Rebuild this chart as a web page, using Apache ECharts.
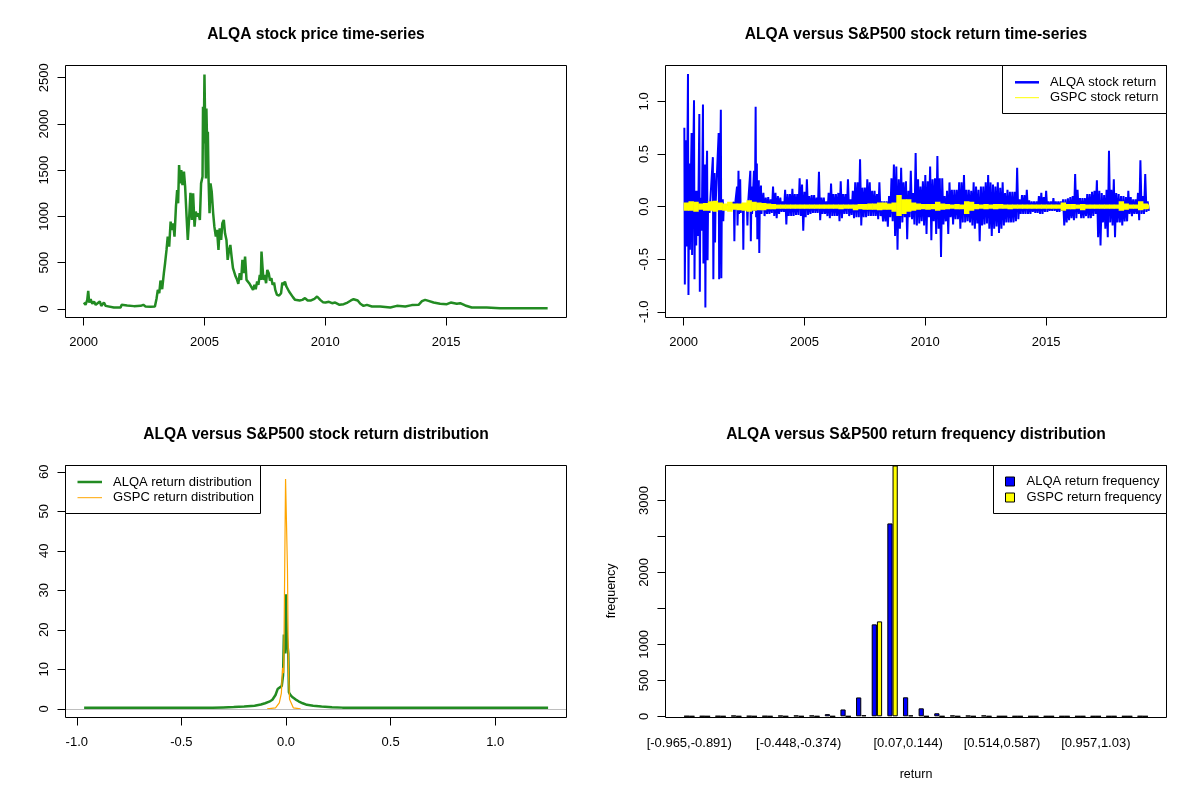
<!DOCTYPE html>
<html><head><meta charset="utf-8">
<script src="https://cdn.jsdelivr.net/npm/echarts@6/dist/echarts.min.js"></script>
<style>html,body{margin:0;padding:0;background:#fff}#c{width:1200px;height:800px}</style>
</head><body><div id="c"></div>
<script>
const FONT = '"Liberation Sans", Arial, Helvetica, sans-serif';

// ---------- DATA ----------
const titles = ['ALQA stock price time-series','ALQA versus S&P500 stock return time-series',
  'ALQA versus S&P500 stock return distribution','ALQA versus S&P500 return frequency distribution'];
const returnNames = ['ALQA stock return','GSPC stock return'];
const densityNames = ['ALQA return distribution','GSPC return distribution'];
const freqNames = ['ALQA return frequency','GSPC return frequency'];

const yearTicks = [2000,2005,2010,2015];
const priceTicks = [0,500,1000,1500,2000,2500];
const returnTicks = [-1,-0.5,0,0.5,1];
const densXTicks = [-1,-0.5,0,0.5,1];
const densYTicks = [0,10,20,30,40,50,60];
const freqTicks = [0,500,1000,1500,2000,2500,3000];
const freqTickLabels = [0,500,1000,2000,3000];

// ALQA price [year, price]
const pricePoints = [[2000.01,68],[2000.08,43],[2000.15,97],[2000.19,194],[2000.23,68],[2000.29,104],[2000.36,54],[2000.43,79],[2000.50,43],[2000.56,61],[2000.67,79],[2000.73,32],[2000.84,68],[2000.91,32],[2000.98,25],[2001.25,14],[2001.53,14],[2001.57,43],[2001.80,36],[2002.08,29],[2002.36,32],[2002.47,43],[2002.56,25],[2002.77,22],[2002.95,25],[2003.02,115],[2003.07,205],[2003.13,169],[2003.18,306],[2003.25,212],[2003.32,385],[2003.37,493],[2003.43,637],[2003.48,781],[2003.54,673],[2003.60,943],[2003.65,853],[2003.71,925],[2003.76,781],[2003.82,1105],[2003.87,1285],[2003.91,1141],[2003.95,1555],[2003.99,1357],[2004.04,1501],[2004.09,1339],[2004.15,1483],[2004.20,1321],[2004.26,997],[2004.31,745],[2004.37,997],[2004.42,1256],[2004.48,961],[2004.53,1249],[2004.59,889],[2004.64,1051],[2004.70,997],[2004.75,1033],[2004.81,961],[2004.86,1357],[2004.92,1429],[2004.94,2185],[2004.97,1789],[2005.00,2534],[2005.03,1969],[2005.06,1411],[2005.08,2167],[2005.11,1789],[2005.14,1915],[2005.17,1393],[2005.21,1033],[2005.25,1357],[2005.30,1267],[2005.36,1033],[2005.41,889],[2005.47,781],[2005.52,853],[2005.58,637],[2005.63,871],[2005.69,745],[2005.74,925],[2005.80,961],[2005.85,817],[2005.91,745],[2005.96,529],[2006.02,637],[2006.07,691],[2006.13,547],[2006.18,439],[2006.24,457],[2006.29,349],[2006.35,313],[2006.40,270],[2006.46,385],[2006.52,313],[2006.57,529],[2006.63,385],[2006.68,565],[2006.74,313],[2006.79,331],[2006.85,277],[2006.93,295],[2007.01,205],[2007.07,259],[2007.12,212],[2007.18,295],[2007.23,259],[2007.29,367],[2007.33,313],[2007.36,619],[2007.40,457],[2007.44,313],[2007.49,367],[2007.55,277],[2007.60,421],[2007.66,385],[2007.71,306],[2007.77,331],[2007.82,259],[2007.88,284],[2007.93,205],[2008.00,151],[2008.09,144],[2008.17,169],[2008.22,284],[2008.28,259],[2008.33,295],[2008.39,241],[2008.44,259],[2008.50,187],[2008.58,169],[2008.66,126],[2008.75,97],[2008.83,79],[2008.94,90],[2009.05,97],[2009.16,115],[2009.27,90],[2009.41,90],[2009.55,108],[2009.66,133],[2009.72,115],[2009.79,97],[2009.90,72],[2010.01,68],[2010.15,76],[2010.28,61],[2010.41,68],[2010.59,43],[2010.76,50],[2010.92,68],[2011.06,90],[2011.17,104],[2011.25,115],[2011.34,90],[2011.45,54],[2011.58,32],[2011.72,43],[2011.93,25],[2012.27,25],[2012.69,14],[2012.96,32],[2013.31,25],[2013.58,40],[2013.86,43],[2014.00,83],[2014.13,97],[2014.27,86],[2014.48,68],[2014.75,54],[2015.03,50],[2015.19,68],[2015.44,54],[2015.58,61],[2015.79,36],[2016.06,14],[2016.68,14],[2017.23,7],[2018.33,7],[2019.20,7]];

// ALQA early return spikes [year, high, low]
const alqaEarly = [[2000.03,0.75,-0.74],[2000.10,0.63,-0.38],[2000.18,1.26,-0.84],[2000.24,0.41,-0.41],[2000.33,0.70,-0.46],[2000.43,1.01,-0.69],[2000.50,0.15,-0.37],[2000.57,0.15,-0.28],[2000.65,0.88,-0.81],[2000.72,0.085,-0.23],[2000.80,0.97,-0.54],[2000.88,0.40,-0.96],[2000.97,0.53,-0.51],[2001.05,0.05,-0.06],[2001.21,0.47,-0.69],[2001.28,0.32,-0.34],[2001.45,0.70,-0.69],[2001.54,0.92,-0.68],[2001.62,0.07,-0.14],[2002.08,0.04,-0.33],[2002.21,0.19,-0.18],[2002.27,0.34,-0.07],[2002.34,0.26,-0.06],[2002.45,0.02,-0.41],[2002.62,0.02,-0.18],[2002.76,0.34,-0.33],[2002.81,0.19,-0.07],[2002.91,0.34,-0.04],[2002.98,0.95,-0.10],[2003.03,0.41,-0.31],[2003.11,0.25,-0.44],[2003.20,0.20,-0.07]];

// ALQA return range per 0.1 year from 2003.3 [high, low]
const alqaDenseStart = 2003.3, alqaDenseStep = 0.1;
const alqaDense = [[0.13,-0.09],[0.085,-0.07],[0.09,-0.07],[0.07,-0.06],[0.19,-0.09],[0.13,-0.11],[0.10,-0.07],
[0.085,-0.05],[0.05,-0.05],[0.16,-0.17],[0.12,-0.09],[0.12,-0.09],[0.17,-0.09],[0.12,-0.08],[0.12,-0.08],[0.27,-0.09],[0.21,-0.23],
[0.14,-0.10],[0.26,-0.08],[0.10,-0.07],[0.11,-0.06],[0.11,-0.06],[0.085,-0.06],[0.33,-0.13],[0.085,-0.07],[0.085,-0.07],[0.05,-0.09],
[0.13,-0.11],[0.22,-0.09],[0.12,-0.09],[0.12,-0.09],[0.13,-0.14],[0.24,-0.11],[0.12,-0.07],[0.12,-0.07],[0.26,-0.09],[0.07,-0.08],
[0.15,-0.11],[0.23,-0.10],[0.23,-0.10],[0.45,-0.18],[0.18,-0.10],[0.18,-0.10],[0.26,-0.09],[0.23,-0.09],[0.15,-0.09],[0.15,-0.09],
[0.12,-0.12],[0.23,-0.09],[0.05,-0.14],[0.05,-0.14],[0.05,-0.19],[0.10,-0.10],[0.27,-0.14],[0.40,-0.28],[0.38,-0.41],[0.26,-0.21],
[0.37,-0.15],[0.23,-0.10],[0.24,-0.31],[0.15,-0.10],[0.34,-0.12],[0.13,-0.17],[0.51,-0.18],[0.26,-0.16],[0.19,-0.14],[0.24,-0.18],
[0.30,-0.26],[0.24,-0.10],[0.38,-0.32],[0.26,-0.14],[0.27,-0.26],[0.48,-0.21],[0.27,-0.48],[0.27,-0.17],[0.10,-0.14],[0.15,-0.26],
[0.23,-0.10],[0.16,-0.17],[0.16,-0.12],[0.16,-0.12],
[0.23,-0.21],[0.23,-0.15],[0.30,-0.15],[0.16,-0.14],[0.16,-0.15],[0.15,-0.18],[0.23,-0.21],[0.19,-0.16],[0.16,-0.33],[0.19,-0.18],
[0.19,-0.17],[0.23,-0.16],[0.30,-0.21],[0.23,-0.28],[0.21,-0.21],[0.19,-0.19],[0.23,-0.25],[0.18,-0.21],[0.23,-0.18],[0.13,-0.15],
[0.16,-0.15],[0.14,-0.15],[0.14,-0.15],[0.14,-0.14],[0.37,-0.12],[0.07,-0.07],[0.11,-0.07],[0.11,-0.07],[0.16,-0.07],[0.06,-0.07],
[0.05,-0.05],[0.05,-0.06],[0.05,-0.06],[0.10,-0.07],[0.13,-0.07],[0.09,-0.05],[0.15,-0.05],[0.05,-0.04],[0.05,-0.04],[0.08,-0.04],
[0.05,-0.05],[0.05,-0.05],[0.05,-0.04],[0.07,-0.18],[0.07,-0.15],[0.08,-0.13],[0.09,-0.11],[0.10,-0.13],[0.31,-0.11],[0.16,-0.07],
[0.08,-0.11],[0.08,-0.11],[0.08,-0.09],[0.12,-0.11],[0.12,-0.11],[0.14,-0.09],[0.15,-0.07],[0.25,-0.29],[0.15,-0.37],[0.13,-0.15],
[0.11,-0.21],[0.16,-0.29],[0.53,-0.15],[0.16,-0.18],[0.26,-0.29],[0.13,-0.15],[0.12,-0.15],[0.10,-0.18],[0.10,-0.14],[0.09,-0.14],
[0.15,-0.07],[0.09,-0.09],[0.07,-0.07],[0.07,-0.07],[0.13,-0.13],[0.44,-0.07],[0.10,-0.07],[0.31,-0.05],[0.05,-0.04]];

// GSPC return range per 0.2 year from 2000.0 to 2019.2 [high, low]
const gspcStart = 2000.0, gspcStep = 0.2, gspcEnd = 2019.2;
const gspcRange = [[0.04,-0.04],[0.05,-0.04],[0.045,-0.05],[0.03,-0.03],[0.035,-0.04],[0.05,-0.04],[0.055,-0.05],[0.04,-0.035],[0.03,-0.04],[0.045,-0.05],
[0.03,-0.03],[0.03,-0.035],[0.04,-0.04],[0.06,-0.05],[0.045,-0.04],[0.04,-0.035],[0.035,-0.035],[0.03,-0.025],[0.025,-0.025],[0.02,-0.02],
[0.02,-0.02],[0.02,-0.02],[0.02,-0.02],[0.02,-0.02],[0.02,-0.02],[0.02,-0.02],[0.02,-0.02],[0.02,-0.02],[0.02,-0.02],[0.02,-0.02],
[0.02,-0.02],[0.02,-0.02],[0.02,-0.025],[0.02,-0.02],[0.02,-0.02],[0.02,-0.035],[0.025,-0.025],[0.025,-0.03],[0.03,-0.03],[0.03,-0.03],
[0.04,-0.035],[0.04,-0.03],[0.03,-0.03],[0.04,-0.05],[0.11,-0.09],[0.07,-0.07],[0.07,-0.05],[0.04,-0.04],[0.03,-0.03],[0.025,-0.025],
[0.025,-0.03],[0.025,-0.025],[0.045,-0.04],[0.03,-0.03],[0.025,-0.025],[0.02,-0.02],[0.025,-0.025],[0.02,-0.025],[0.05,-0.07],[0.045,-0.04],
[0.025,-0.025],[0.02,-0.02],[0.025,-0.025],[0.02,-0.02],[0.025,-0.025],[0.025,-0.02],[0.02,-0.02],[0.02,-0.025],[0.02,-0.02],[0.02,-0.02],
[0.02,-0.02],[0.02,-0.02],[0.02,-0.02],[0.02,-0.02],[0.02,-0.02],[0.02,-0.02],[0.02,-0.02],[0.02,-0.02],[0.04,-0.04],[0.025,-0.025],
[0.025,-0.025],[0.02,-0.02],[0.025,-0.035],[0.02,-0.02],[0.02,-0.02],[0.02,-0.02],[0.02,-0.02],[0.02,-0.02],[0.02,-0.02],[0.02,-0.02],
[0.05,-0.04],[0.03,-0.03],[0.02,-0.02],[0.02,-0.02],[0.05,-0.035],[0.03,-0.025],[0.02,-0.02]];

// return densities [return, density]
const alqaDensity = [[-0.965,0.25],[-0.35,0.25],[-0.3,0.35],[-0.25,0.45],[-0.2,0.6],[-0.15,0.8],[-0.12,1.1],[-0.1,1.4],[-0.08,1.8],[-0.065,2.3],[-0.05,3.5],[-0.04,5.0],[-0.03,5.4],[-0.02,5.8],[-0.014,8.5],[-0.01,18.8],[-0.006,18.5],[-0.003,14.0],[-0.001,29.0],[0.002,29.0],[0.004,18.3],[0.008,18.0],[0.011,14.0],[0.014,4.2],[0.02,3.6],[0.03,3.0],[0.045,2.4],[0.06,1.9],[0.08,1.4],[0.1,1.0],[0.13,0.8],[0.17,0.6],[0.22,0.4],[0.27,0.3],[0.35,0.25],[1.253,0.25]];
const gspcDensity = [[-0.09,0.0],[-0.05,0.25],[-0.032,1.5],[-0.022,4.0],[-0.016,10.4],[-0.011,9.0],[-0.006,36.0],[-0.002,58.2],[0.003,57.9],[0.007,35.6],[0.012,9.0],[0.017,2.4],[0.035,0.25],[0.07,0.0]];

// return frequency per bin
const binLabels = ['[-0.965,-0.891)','[-0.891,-0.817)','[-0.817,-0.743)','[-0.743,-0.669)','[-0.669,-0.595)','[-0.595,-0.522)','[-0.522,-0.448)','[-0.448,-0.374)','[-0.374,-0.3)','[-0.3,-0.226)','[-0.226,-0.152)','[-0.152,-0.0784)','[-0.0784,-0.00448)','[-0.00448,0.07)','[0.07,0.144)','[0.144,0.218)','[0.218,0.292)','[0.292,0.366)','[0.366,0.44)','[0.44,0.514)','[0.514,0.587)','[0.587,0.661)','[0.661,0.735)','[0.735,0.809)','[0.809,0.883)','[0.883,0.957)','[0.957,1.03)','[1.03,1.1)','[1.1,1.18)','[1.18,1.25]'];
const shownBinLabels = ['[-0.965,-0.891)','[-0.448,-0.374)','[0.07,0.144)','[0.514,0.587)','[0.957,1.03)'];
const alqaFreq = [2,1,2,8,3,2,8,10,10,30,95,262,1278,2681,264,111,42,10,8,10,0,0,0,0,0,0,0,0,0,1];
const gspcFreq = [0,0,0,0,0,0,0,0,0,0,0,15,1319,3486,12,0,0,0,0,0,0,0,0,0,0,0,0,0,0,0];

// ---------- BUILD ----------
const alqaReturnLine = [];
alqaEarly.forEach(([t,h,l]) => { alqaReturnLine.push([t,h],[t+0.02,l],[t+0.04,0]); });
alqaDense.forEach(([h,l],i) => { const t = alqaDenseStart + i*alqaDenseStep; alqaReturnLine.push([t,h],[t+alqaDenseStep/2,l]); });
const gspcBand = gspcRange.map(([h,l],i) => [gspcStart + i*gspcStep, l, h]);

const C = {green:'#228B22', blue:'#0000FF', yellow:'#FFFF00', orange:'#FFA500', gray:'#BEBEBE'};
const lab = (extra) => Object.assign({fontSize:13, color:'#000', fontFamily:FONT}, extra);

function xVal(g, min, max, ticks, fmt){
  return {type:'value', gridIndex:g, min, max, axisLine:{show:false, onZero:false}, splitLine:{show:false},
    axisTick:{show:true, length:8, customValues:ticks, lineStyle:{color:'#000'}},
    axisLabel:lab({customValues:ticks, margin:18, formatter:fmt})};
}
function yVal(g, min, max, ticks, labels, fmt, extra){
  return Object.assign({type:'value', gridIndex:g, min, max, axisLine:{show:false, onZero:false}, splitLine:{show:false},
    axisTick:{show:true, length:8, customValues:ticks, lineStyle:{color:'#000'}},
    axisLabel:lab({customValues:labels, rotate:90, margin:15, formatter:fmt})}, extra||{});
}
const f1 = v => v.toFixed(1);
const fi = v => String(Math.round(v));

const frames = [[65.5,65.5],[665.5,65.5],[65.5,465.5],[665.5,465.5]];
const txt = (text, x, y) => ({type:'text', x, y, z:101, style:{text, x:0, y:0, font:'13px '+FONT, fill:'#000', align:'left', verticalAlign:'middle'}});
const lineG = (x1,x2,y,color,w) => ({type:'line', z:101, shape:{x1,y1:y,x2,y2:y}, style:{stroke:color, lineWidth:w}});
const boxG = (x,y,w,h,fill) => ({type:'rect', z:100, shape:{x,y,width:w,height:h}, style:{fill:fill, stroke:'#000', lineWidth:1}});

const graphic = [];
frames.forEach(([x,y]) => graphic.push(boxG(x,y,501,252,'none')));
graphic.push(boxG(1002.5,65.5,164,48,'#fff'), lineG(1015,1039,82.3,C.blue,2.5), lineG(1015,1039,97.7,C.yellow,1),
  txt(returnNames[0],1050,82.3), txt(returnNames[1],1050,97.7));
graphic.push(boxG(65.5,465.5,195,48,'#fff'), lineG(77.5,102,482,C.green,2.5), lineG(77.5,102,497.7,C.orange,1),
  txt(densityNames[0],113,482), txt(densityNames[1],113,497.7));
graphic.push(boxG(993.5,465.5,173,48,'#fff'),
  {type:'rect', z:101, shape:{x:1005.5,y:477,width:9,height:9}, style:{fill:C.blue, stroke:'#000', lineWidth:1}},
  {type:'rect', z:101, shape:{x:1005.5,y:493,width:9,height:9}, style:{fill:C.yellow, stroke:'#000', lineWidth:1}},
  txt(freqNames[0],1026.5,481.5), txt(freqNames[1],1026.5,497.5));

const option = {
  animation:false,
  backgroundColor:'#fff',
  title: titles.map((t,i) => ({text:t, left:[316,916,316,916][i], top:[27,27,427,427][i], textAlign:'center', padding:0,
    textStyle:{fontSize:15.6, fontWeight:'bold', color:'#000', fontFamily:FONT}})),
  grid:[
    {left:65.5, top:65.5, width:501, height:252},
    {left:665.5, top:65.5, width:501, height:252},
    {left:65.5, top:465.5, width:501, height:252},
    {left:681.45, top:465.5, width:469.1, height:250.8}
  ],
  xAxis:[
    xVal(0,1999.25,2019.98,yearTicks,fi),
    xVal(1,1999.25,2019.98,yearTicks,fi),
    xVal(2,-1.054,1.341,densXTicks,f1),
    {type:'category', gridIndex:3, data:binLabels, boundaryGap:true, axisLine:{show:false, onZero:false}, axisTick:{show:false}, splitLine:{show:false},
      axisLabel:lab({interval:(i,v)=>shownBinLabels.indexOf(v)>=0, margin:20.5, hideOverlap:false}),
      name:'return', nameLocation:'middle', nameGap:52, nameTextStyle:{fontSize:12.5, color:'#000', fontFamily:FONT}}
  ],
  yAxis:[
    yVal(0,-94,2632,priceTicks,priceTicks,fi),
    yVal(1,-1.054,1.341,returnTicks,returnTicks,f1),
    yVal(2,-2.2,61.6,densYTicks,densYTicks,fi),
    yVal(3,0,3486,freqTicks,freqTickLabels,fi,{offset:16, name:'frequency', nameLocation:'middle', nameRotate:90, nameGap:47,
      nameTextStyle:{fontSize:12.5, color:'#000', fontFamily:FONT}})
  ],
  series:[
    {type:'line', name:'ALQA price', xAxisIndex:0, yAxisIndex:0, data:pricePoints, showSymbol:false, symbol:'none', clip:true,
      lineStyle:{color:C.green, width:2.5}},
    {type:'line', name:returnNames[0], xAxisIndex:1, yAxisIndex:1, data:alqaReturnLine, showSymbol:false, symbol:'none', clip:true, z:2,
      lineStyle:{color:C.blue, width:2}},
    {type:'custom', name:returnNames[1], xAxisIndex:1, yAxisIndex:1, data:gspcBand, clip:true, z:10,
      encode:{x:0, y:[1,2]},
      renderItem:(params, api) => {
        const t = api.value(0), lo = api.value(1), hi = api.value(2);
        const a = api.coord([t, hi]), b = api.coord([Math.min(t + gspcStep, gspcEnd), lo]);
        return {type:'rect', z2:10, shape:{x:a[0], y:a[1], width:Math.max(b[0]-a[0], 1)+0.6, height:b[1]-a[1]}, style:{fill:C.yellow}};
      }},
    {type:'line', name:densityNames[0], xAxisIndex:2, yAxisIndex:2, data:alqaDensity, showSymbol:false, symbol:'none', clip:true,
      lineStyle:{color:C.green, width:2.5},
      markLine:{silent:true, symbol:['none','none'], label:{show:false}, lineStyle:{color:C.gray, type:'solid', width:1}, data:[{yAxis:0}]}},
    {type:'line', name:densityNames[1], xAxisIndex:2, yAxisIndex:2, data:gspcDensity, showSymbol:false, symbol:'none', clip:true,
      lineStyle:{color:C.orange, width:1.2}},
    {type:'bar', name:freqNames[0], xAxisIndex:3, yAxisIndex:3, data:alqaFreq, barGap:'0%', barCategoryGap:'33.33%', clip:true,
      itemStyle:{color:C.blue, borderColor:'#000', borderWidth:1}},
    {type:'bar', name:freqNames[1], xAxisIndex:3, yAxisIndex:3, data:gspcFreq, barGap:'0%', barCategoryGap:'33.33%', clip:true,
      itemStyle:{color:C.yellow, borderColor:'#000', borderWidth:1}}
  ],
  graphic: graphic
};
const chart = echarts.init(document.getElementById('c'), null, {renderer:'canvas', width:1200, height:800});
chart.setOption(option);
</script>
</body></html>
